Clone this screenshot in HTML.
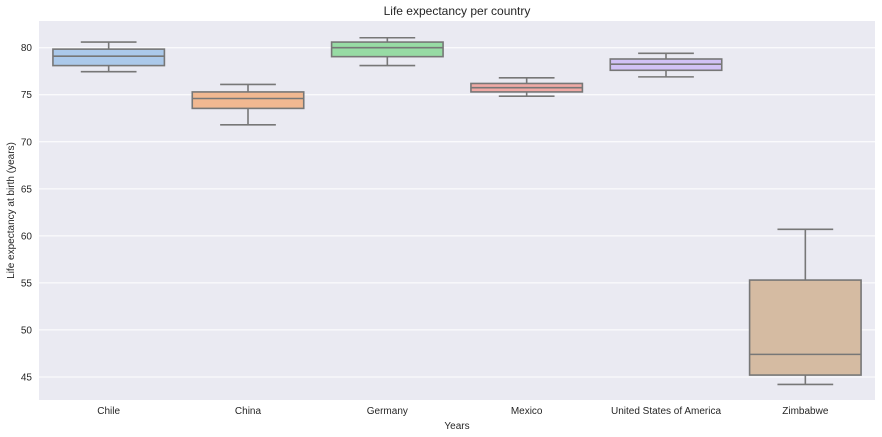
<!DOCTYPE html>
<html><head><meta charset="utf-8"><style>body{margin:0;background:#fff}svg{display:block;font-family:"Liberation Sans",sans-serif}</style></head>
<body>
<svg id="c" width="882" height="437"></svg>
<script>
const categories=["Chile","China","Germany","Mexico","United States of America","Zimbabwe"];
const whiskerLow=[77.45,71.8,78.1,74.85,76.9,44.2];
const q1=[78.1,73.55,79.05,75.3,77.6,45.2];
const median=[79.1,74.6,80.0,75.75,78.25,47.4];
const q3=[79.85,75.3,80.6,76.2,78.8,55.3];
const whiskerHigh=[80.6,76.1,81.06,76.8,79.4,60.7];
const yTicks=[45,50,55,60,65,70,75,80];
const colors=["#abc9ea","#f1b891","#97dba4","#f0a9a5","#d1c2f5","#d5bba2"];
const L=39,R=875,T=21,B=400,yMin=42.55,yMax=82.84;
const y=v=>B-(v-yMin)/(yMax-yMin)*(B-T);
const bw=(R-L)/categories.length;
const x=i=>L+bw*(i+0.5);
const svg=document.getElementById('c');const NS='http://www.w3.org/2000/svg';
function mk(t,a,p){const e=document.createElementNS(NS,t);for(const k in a)e.setAttribute(k,a[k]);(p||svg).appendChild(e);return e;}
const bg=mk('rect',{x:L,y:T,width:R-L,height:B-T,fill:'#eaeaf2'});


yTicks.forEach(t=>{
const g=mk('line',{x1:L,x2:R,y1:y(t),y2:y(t),stroke:'#fff','stroke-width':1});


const tx=mk('text',{x:L-7,y:y(t)+3.5,'text-anchor':'end','font-size':10,fill:'#262626'});tx.textContent=t;


});
categories.forEach((c,i)=>{
const g=mk('g',{});


const cx=x(i),w=bw*0.8,cw=w/2,st={stroke:'#777','stroke-width':1.6,fill:'none'};
mk('line',Object.assign({x1:cx,x2:cx,y1:y(whiskerHigh[i]),y2:y(q3[i])},st),g);
mk('line',Object.assign({x1:cx,x2:cx,y1:y(q1[i]),y2:y(whiskerLow[i])},st),g);
mk('line',Object.assign({x1:cx-cw/2,x2:cx+cw/2,y1:y(whiskerHigh[i]),y2:y(whiskerHigh[i])},st),g);
mk('line',Object.assign({x1:cx-cw/2,x2:cx+cw/2,y1:y(whiskerLow[i]),y2:y(whiskerLow[i])},st),g);
mk('rect',{x:cx-w/2,y:y(q3[i]),width:w,height:y(q1[i])-y(q3[i]),fill:colors[i],stroke:'#777','stroke-width':1.6},g);
mk('line',Object.assign({x1:cx-w/2,x2:cx+w/2,y1:y(median[i]),y2:y(median[i])},st),g);
const tx=mk('text',{x:cx,y:B+14,'text-anchor':'middle','font-size':10,fill:'#262626'});tx.textContent=c;


});
const t=mk('text',{x:(L+R)/2,y:15,'text-anchor':'middle','font-size':12,fill:'#262626'});t.textContent='Life expectancy per country';


const xl=mk('text',{x:(L+R)/2,y:429,'text-anchor':'middle','font-size':10,fill:'#262626'});xl.textContent='Years';


const yl=mk('text',{x:0,y:0,'text-anchor':'middle','font-size':10,fill:'#262626',transform:'translate(14,'+((T+B)/2)+') rotate(-90)'});yl.textContent='Life expectancy at birth (years)';


</script>
</body></html>
